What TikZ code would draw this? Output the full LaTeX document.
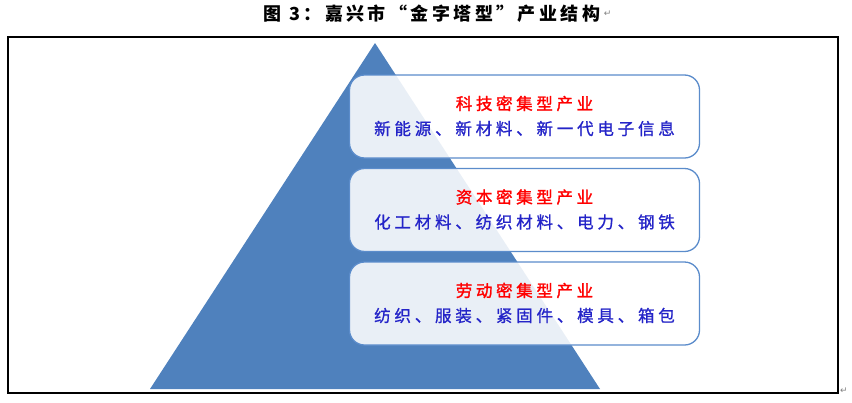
\documentclass[tikz,border=0pt]{standalone}
\usepackage{fontspec}
\newfontfamily\cjk{Noto Sans CJK SC}
\newfontfamily\dvs{DejaVu Sans}
\definecolor{triblue}{HTML}{4F81BD}
\definecolor{boxline}{HTML}{5B8CCB}
\definecolor{txtblue}{RGB}{36,36,200}
\definecolor{txtred}{RGB}{255,0,0}
\tikzset{
  layerbox/.style={draw=boxline, line width=1.3pt, rounded corners=15pt, fill=white, fill opacity=0.88, text opacity=1, minimum width=350pt, minimum height=83pt},
  headtxt/.style={text=txtred, font=\cjk\fontsize{16.5}{18}\selectfont\addfontfeatures{LetterSpace=22,FakeBold=1.5}},
  itemtxt/.style={text=txtblue, font=\cjk\fontsize{16.5}{18}\selectfont\addfontfeatures{LetterSpace=23,FakeBold=1}},
  marktxt/.style={text=gray, font=\dvs\fontsize{9}{10}\selectfont}
}
\begin{document}
\begin{tikzpicture}[x=1pt,y=-1pt]
\useasboundingbox (0,0) rectangle (852,402);
% title
\node[font=\cjk\bfseries\fontsize{18}{20}\selectfont\addfontfeatures{LetterSpace=19}] (title) at (432,14) {图 3：嘉兴市“金字塔型”产业结构};
\node[marktxt, anchor=west, inner sep=0pt] (pm1) at (title.east) {↵};
% frame
\draw[line width=2pt] (8,37) rectangle (838,393);
\node[marktxt, anchor=west, inner sep=0pt] (pm2) at (840,391) {↵};
% pyramid
\fill[triblue] (375,43) -- (600,389) -- (150,389) -- cycle;
% boxes
\node[layerbox] (b1) at (524.5,116.5) {};
\node[layerbox] (b2) at (524.5,210) {};
\node[layerbox] (b3) at (524.5,303.5) {};
% texts
\node[headtxt] (h1) at ([yshift=13pt]b1.center) {科技密集型产业};
\node[itemtxt] (i1) at ([yshift=-12pt]b1.center) {新能源、新材料、新一代电子信息};
\node[headtxt] (h2) at ([yshift=13pt]b2.center) {资本密集型产业};
\node[itemtxt] (i2) at ([yshift=-12pt]b2.center) {化工材料、纺织材料、电力、钢铁};
\node[headtxt] (h3) at ([yshift=13pt]b3.center) {劳动密集型产业};
\node[itemtxt] (i3) at ([yshift=-12pt]b3.center) {纺织、服装、紧固件、模具、箱包};
\end{tikzpicture}
\end{document}
